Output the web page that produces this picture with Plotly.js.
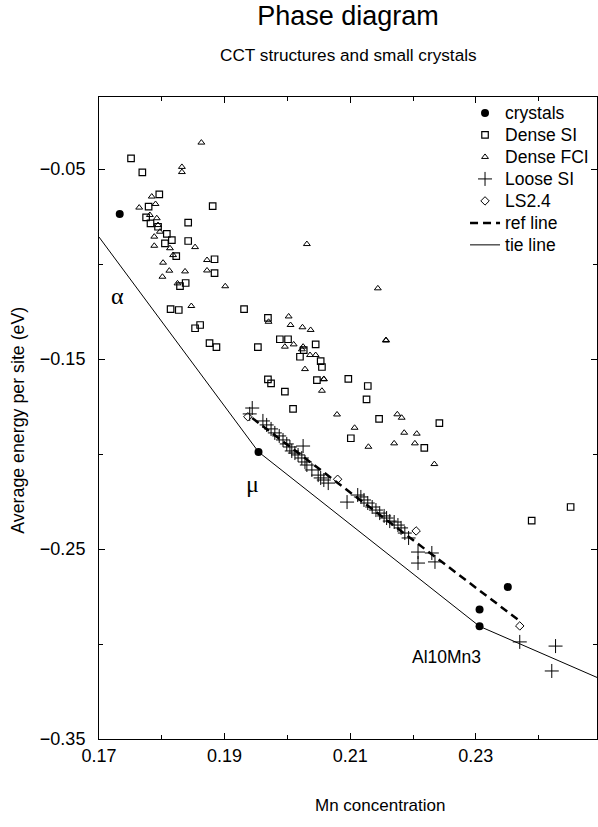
<!DOCTYPE html>
<html>
<head>
<meta charset="utf-8">
<script src="https://cdn.plot.ly/plotly-3.0.1.min.js"></script>
<style>html,body{margin:0;padding:0;background:#fff;}#chart{width:598px;height:827px;}</style>
</head>
<body>
<div id="chart"></div>
<script>
// ---- data ----
const crystalsX = [0.1733, 0.1954, 0.2306, 0.2306, 0.2351];
const crystalsY = [-0.0737, -0.1989, -0.2819, -0.2907, -0.2700];

const denseSIX = [0.1751, 0.1769, 0.1796, 0.1779, 0.1775, 0.1782, 0.1794, 0.1808, 0.1816, 0.1805,
  0.1823, 0.1881, 0.1842, 0.1842, 0.1884, 0.1884, 0.1838, 0.1829, 0.1814, 0.1827,
  0.1931, 0.1861, 0.1853, 0.1969, 0.1876, 0.1887, 0.1953, 0.1988, 0.2001, 0.2045,
  0.2026, 0.2020, 0.2053, 0.2055, 0.2047, 0.2097, 0.2128, 0.2126, 0.2009, 0.2146,
  0.2242, 0.2101, 0.2218, 0.1969, 0.1974, 0.1996, 0.2389, 0.2451];
const denseSIY = [-0.0444, -0.0518, -0.0633, -0.0698, -0.0755, -0.0786, -0.0804, -0.0841, -0.0874, -0.0891,
  -0.0958, -0.0695, -0.0782, -0.0879, -0.0975, -0.1048, -0.1100, -0.1116, -0.1237, -0.1242,
  -0.1237, -0.1321, -0.1338, -0.1283, -0.1416, -0.1437, -0.1437, -0.1396, -0.1396, -0.1423,
  -0.1453, -0.1488, -0.1511, -0.1542, -0.1611, -0.1605, -0.1642, -0.1712, -0.1762, -0.1815,
  -0.1838, -0.1917, -0.1968, -0.1607, -0.1628, -0.1672, -0.2351, -0.2279];

const denseFCIX = [0.1863, 0.1832, 0.1832, 0.1764, 0.1784, 0.1790, 0.1781, 0.1792, 0.1794, 0.1797,
  0.1788, 0.1788, 0.1813, 0.1818, 0.1802, 0.1812, 0.1801, 0.1837, 0.1853, 0.1872,
  0.1872, 0.1825, 0.1901, 0.1847, 0.2031, 0.2002, 0.2005, 0.2024, 0.2037, 0.1970,
  0.1996, 0.2010, 0.2025, 0.2144, 0.2157, 0.2157, 0.2023, 0.2036, 0.2045, 0.2028,
  0.2058, 0.2058, 0.2055, 0.2079, 0.2175, 0.2182, 0.2107, 0.2129, 0.2186, 0.2206,
  0.2170, 0.2203, 0.2234];
const denseFCIY = [-0.0361, -0.0489, -0.0516, -0.0703, -0.0645, -0.0684, -0.0742, -0.0759, -0.0795, -0.0830,
  -0.0856, -0.0904, -0.0917, -0.0953, -0.0993, -0.1035, -0.1067, -0.1039, -0.0911, -0.0979,
  -0.1034, -0.1102, -0.1117, -0.1221, -0.0895, -0.1276, -0.1321, -0.1333, -0.1347, -0.1304,
  -0.1435, -0.1423, -0.1435, -0.1128, -0.1403, -0.1400, -0.1449, -0.1479, -0.1479, -0.1553,
  -0.1607, -0.1605, -0.1667, -0.1792, -0.1791, -0.1809, -0.1862, -0.1962, -0.1888, -0.1893,
  -0.1944, -0.1944, -0.2053];

const looseSIX = [0.1940, 0.1944, 0.1961, 0.1967, 0.1974, 0.1980, 0.1987, 0.1993, 0.1999, 0.2004,
  0.2025, 0.2007, 0.2012, 0.2017, 0.2023, 0.2028, 0.2031, 0.2039, 0.2049, 0.2053,
  0.2058, 0.2065, 0.2095, 0.2112, 0.2117, 0.2122, 0.2128, 0.2135, 0.2141, 0.2147,
  0.2154, 0.2158, 0.2163, 0.2170, 0.2176, 0.2181, 0.2187, 0.2193, 0.2208, 0.2230,
  0.2208, 0.2235, 0.2370, 0.2427, 0.2421];
const looseSIY = [-0.1789, -0.1758, -0.1826, -0.1847, -0.1868, -0.1889, -0.1905, -0.1926, -0.1947, -0.1963,
  -0.1958, -0.1984, -0.1995, -0.2005, -0.2021, -0.2042, -0.2058, -0.2084, -0.2111, -0.2126,
  -0.2137, -0.2153, -0.2253, -0.2216, -0.2226, -0.2242, -0.2258, -0.2279, -0.2295, -0.2311,
  -0.2326, -0.2337, -0.2353, -0.2358, -0.2374, -0.2389, -0.2416, -0.2442, -0.2516, -0.2521,
  -0.2574, -0.2568, -0.2989, -0.3011, -0.3142];

const ls24X = [0.1937, 0.2080, 0.2205, 0.2370];
const ls24Y = [-0.1804, -0.2133, -0.2405, -0.2905];

const refLineX = [0.1944, 0.2370];
const refLineY = [-0.1811, -0.2879];

const tieLineX = [0.1700, 0.1954, 0.2306, 0.2493];
const tieLineY = [-0.0858, -0.1989, -0.2907, -0.3176];

const xTickVals = [0.17, 0.19, 0.21, 0.23];
const xTickText = ["0.17", "0.19", "0.21", "0.23"];
const yTickVals = [-0.35, -0.25, -0.15, -0.05];
const yTickText = ["\u22120.35", "\u22120.25", "\u22120.15", "\u22120.05"];

const phaseLabels = ["\u03b1", "\u03bc", "Al10Mn3"];
const phaseLabelX = [0.1730, 0.1945, 0.2253];
const phaseLabelY = [-0.1170, -0.2160, -0.3067];

const seriesNames = ["crystals", "Dense SI", "Dense FCI", "Loose SI", "LS2.4", "ref line", "tie line"];

// ---- chart ----
const FONT = "Liberation Sans, Arial, Helvetica, sans-serif";
const nm = s => '<span style="font-size:17.5px">' + s + '</span>';
const traces = [
  {x: tieLineX, y: tieLineY, mode: 'lines', name: nm(seriesNames[6]), legendrank: 7,
   line: {color: '#000', width: 1}},
  {x: refLineX, y: refLineY, mode: 'lines', name: nm(seriesNames[5]), legendrank: 6,
   line: {color: '#000', width: 2.5, dash: '8px,5px'}},
  {x: denseSIX, y: denseSIY, mode: 'markers', name: nm(seriesNames[1]), legendrank: 2,
   marker: {symbol: 'square-open', size: 6.5, color: '#000', line: {width: 1.2, color: '#000'}}},
  {x: denseFCIX, y: denseFCIY, mode: 'markers', name: nm(seriesNames[2]), legendrank: 3,
   marker: {symbol: 'triangle-up-open', size: 6, color: '#000', line: {width: 1, color: '#000'}}},
  {x: looseSIX, y: looseSIY, mode: 'markers', name: nm(seriesNames[3]), legendrank: 4,
   marker: {symbol: 'cross-thin-open', size: 10, color: '#000', line: {width: 1, color: '#000'}}},
  {x: ls24X, y: ls24Y, mode: 'markers', name: nm(seriesNames[4]), legendrank: 5,
   marker: {symbol: 'diamond-open', size: 6.5, color: '#000', line: {width: 1, color: '#000'}}},
  {x: crystalsX, y: crystalsY, mode: 'markers', name: nm(seriesNames[0]), legendrank: 1,
   marker: {symbol: 'circle', size: 8, color: '#000'}}
];

const annotations = [
  {text: 'CCT structures and small crystals', xref: 'paper', yref: 'paper', x: 0.5, y: 1.0654,
   showarrow: false, font: {size: 17.2, family: FONT, color: '#000'}, xanchor: 'center', yanchor: 'middle'},
  {text: 'Mn concentration', xref: 'paper', yref: 'paper', x: 0.564, y: -0.103,
   showarrow: false, font: {size: 17, family: FONT, color: '#000'}, xanchor: 'center', yanchor: 'middle'},
  {text: 'Average energy per site (eV)', xref: 'paper', yref: 'paper', x: -0.163, y: 0.497, textangle: -90,
   showarrow: false, font: {size: 17.8, family: FONT, color: '#000'}, xanchor: 'center', yanchor: 'middle'}
];
for (let i = 0; i < phaseLabels.length; i++) {
  const greek = i < 2;
  annotations.push({text: phaseLabels[i], x: phaseLabelX[i], y: phaseLabelY[i], xref: 'x', yref: 'y',
    showarrow: false, xanchor: 'center', yanchor: 'middle',
    font: {size: greek ? 24 : 17.5, family: greek ? 'Liberation Serif, DejaVu Serif, serif' : FONT, color: '#000'}});
}

const layout = {
  width: 598, height: 827,
  margin: {l: 99, r: 1, t: 97, b: 88},
  paper_bgcolor: '#fff', plot_bgcolor: '#fff',
  font: {family: FONT, size: 17, color: '#000'},
  title: {text: 'Phase diagram', font: {size: 27, family: FONT, color: '#000'},
          x: 0.5, xref: 'paper', y: 0.981, yref: 'container', yanchor: 'middle'},
  showlegend: true,
  legend: {x: 0.735, y: 1.0, xanchor: 'left', yanchor: 'top', bgcolor: 'rgba(0,0,0,0)',
           font: {size: 14.6, family: FONT, color: '#000'}, tracegroupgap: 0, itemwidth: 30},
  xaxis: {range: [0.17, 0.2493], showgrid: false, zeroline: false, showline: true, linecolor: '#000', linewidth: 1,
          mirror: 'ticks', ticks: 'inside', ticklen: 6, tickwidth: 1, tickcolor: '#000',
          tickmode: 'array', tickvals: xTickVals, ticktext: xTickText,
          minor: {dtick: 0.01, tick0: 0.17, ticks: 'inside', ticklen: 4, tickcolor: '#000', showgrid: false},
          tickfont: {size: 18, family: FONT, color: '#000'}},
  yaxis: {range: [-0.35, -0.0121], showgrid: false, zeroline: false, showline: true, linecolor: '#000', linewidth: 1,
          mirror: 'ticks', ticks: 'inside', ticklen: 6, tickwidth: 1, tickcolor: '#000',
          tickmode: 'array', tickvals: yTickVals, ticktext: yTickText, ticklabelstandoff: 9,
          minor: {dtick: 0.05, tick0: -0.35, ticks: 'inside', ticklen: 4, tickcolor: '#000', showgrid: false},
          tickfont: {size: 18, family: FONT, color: '#000'}},
  annotations: annotations
};

Plotly.newPlot('chart', traces, layout, {displayModeBar: false, staticPlot: true});
</script>
</body>
</html>
